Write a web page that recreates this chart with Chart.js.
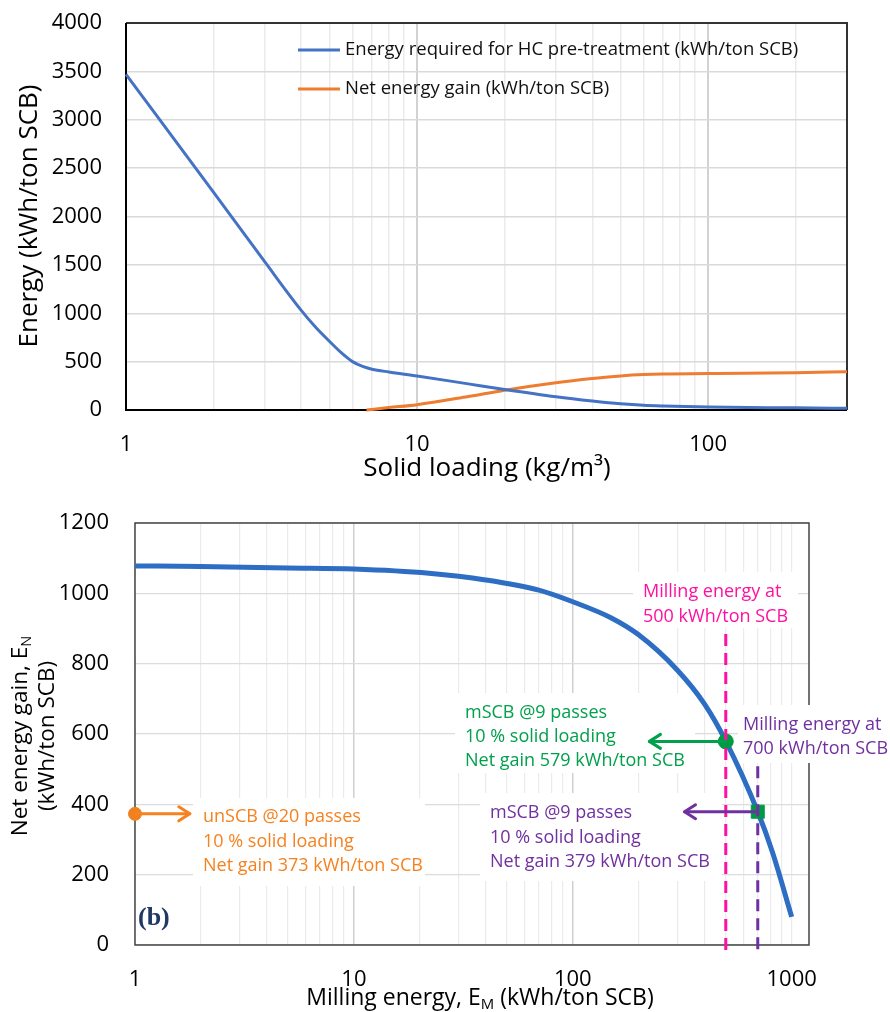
<!DOCTYPE html>
<html><head><meta charset="utf-8">
<script src="https://cdn.jsdelivr.net/npm/chart.js@4.4.1/dist/chart.umd.min.js"></script>
<style>
html,body{margin:0;padding:0;background:#fff;width:890px;height:1012px;overflow:hidden}
#w1{position:absolute;left:0;top:0;width:890px;height:490px}
#w2{position:absolute;left:0;top:490px;width:890px;height:522px}
canvas{display:block}
</style></head><body>
<div id="w1"><canvas id="c1" width="890" height="490"></canvas></div>
<div id="w2"><canvas id="c2" width="890" height="522"></canvas></div>
<script>
// ---------- DATA (top chart) ----------
const hcX      = [1, 2, 3, 4, 4.5, 5, 5.5, 6, 6.5, 7, 8, 10, 15, 20, 30, 40, 50, 60, 70, 100, 200, 300];
const hcEnergy = [3470, 2250, 1530, 1030, 850, 710, 590, 500, 450, 422, 393, 352, 270, 212, 137, 93, 64, 48, 41, 31, 22, 17];
const netX     = [6.7, 8, 10, 15, 20, 30, 40, 50, 60, 70, 100, 200, 300];
const netGain  = [0, 25, 55, 140, 205, 282, 325, 352, 366, 372, 376, 386, 395];
const topXTicks  = [1,2,3,4,5,6,7,8,9,10,20,30,40,50,60,70,80,90,100,200,300];
const topXLabels = [1, 10, 100];
const topSeriesNames = ['Energy required for HC pre-treatment (kWh/ton SCB)', 'Net energy gain (kWh/ton SCB)'];

// ---------- DATA (bottom chart) ----------
const millX    = [1, 2, 5, 10, 22, 40, 70, 100, 150, 200, 300, 400, 500, 700, 820, 1000];
const millGain = [1078, 1076, 1072, 1069, 1057, 1038, 1009, 976, 930, 882, 782, 685, 580, 379, 261, 80];
const botXTicks  = [1,2,3,4,5,6,7,8,9,10,20,30,40,50,60,70,80,90,100,200,300,400,500,600,700,800,900,1000];
const botXLabels = [1, 10, 100, 1000];
const markerX = [1, 500, 700];
const markerY = [373, 579, 379];
const arrowToX = [1.78, 224, 324];
const millingLineX = [500, 700];
const millingLineTop = [890, 512];
const millingLineBottom = [-14, -12];
const unscbNote   = ['unSCB @20 passes', '10 % solid loading', 'Net gain 373 kWh/ton SCB'];
const mscb500Note = ['mSCB @9 passes', '10 % solid loading', 'Net gain 579 kWh/ton SCB'];
const mscb700Note = ['mSCB @9 passes', '10 % solid loading', 'Net gain 379 kWh/ton SCB'];
const mill500Note = ['Milling energy at', '500 kWh/ton SCB'];
const mill700Note = ['Milling energy at', '700 kWh/ton SCB'];

const FONT = "'Open Sans', 'DejaVu Sans', sans-serif";
Chart.defaults.font.family = FONT;
Chart.defaults.color = '#000';

function drawRich(ctx, parts, cx, cy, size, rot, color){
  ctx.save();
  ctx.translate(cx, cy);
  if (rot) ctx.rotate(rot);
  ctx.fillStyle = color || '#000';
  ctx.textBaseline = 'middle';
  ctx.textAlign = 'left';
  let w = 0;
  const widths = parts.map(p => {
    ctx.font = (p.sub ? size*0.65 : size) + 'px ' + FONT;
    const m = ctx.measureText(p.t).width; w += m; return m;
  });
  let x = -w/2;
  parts.forEach((p,i) => {
    ctx.font = (p.sub ? size*0.65 : size) + 'px ' + FONT;
    ctx.fillText(p.t, x, p.sub ? size*0.28 : 0);
    x += widths[i];
  });
  ctx.restore();
}
const noPadY = s => { s.paddingTop = 0; s.paddingBottom = 0; };
const noPadX = s => { s.paddingLeft = 0; s.paddingRight = 0; };

// ---------- TOP CHART ----------
const topDecor = {
  id: 'topDecor',
  beforeDatasetsDraw(chart){
    const {ctx, chartArea:a} = chart;
    ctx.save();
    ctx.lineWidth = 2;
    ctx.strokeStyle = '#333';
    ctx.beginPath(); ctx.moveTo(a.left, a.top); ctx.lineTo(a.right, a.top); ctx.lineTo(a.right, a.bottom); ctx.stroke();
    ctx.strokeStyle = '#000';
    ctx.beginPath(); ctx.moveTo(a.left, a.top); ctx.lineTo(a.left, a.bottom); ctx.lineTo(a.right, a.bottom); ctx.stroke();
    ctx.restore();
  },
  afterDraw(chart){
    const ctx = chart.ctx;
    ctx.save();
    chart.data.datasets.forEach((ds, i) => {
      const y = 50 + i*39;
      ctx.strokeStyle = ds.borderColor; ctx.lineWidth = 3;
      ctx.beginPath(); ctx.moveTo(298, y); ctx.lineTo(340, y); ctx.stroke();
      ctx.fillStyle = '#111'; ctx.font = '18.5px ' + FONT;
      ctx.textBaseline = 'middle'; ctx.textAlign = 'left';
      ctx.fillText(ds.label, 345, y);
    });
    ctx.restore();
    drawRich(ctx, [{t:'Energy (kWh/ton SCB)'}], 30, 216, 26, -Math.PI/2);
    drawRich(ctx, [{t:'Solid loading (kg/m³)'}], 487, 469, 26, 0);
  }
};

new Chart(document.getElementById('c1'), {
  type: 'line',
  data: { datasets: [
    { label: topSeriesNames[0], data: hcX.map((x,i)=>({x, y:hcEnergy[i]})), borderColor:'#4472C4', borderWidth:3, pointRadius:0, cubicInterpolationMode:'monotone', clip:false },
    { label: topSeriesNames[1], data: netX.map((x,i)=>({x, y:netGain[i]})), borderColor:'#ED7D31', borderWidth:3, pointRadius:0, cubicInterpolationMode:'monotone', clip:false }
  ]},
  options: {
    responsive:false, animation:false, devicePixelRatio:1,
    layout:{ padding:{ left:0, top:23, right:43, bottom:0 } },
    plugins:{ legend:{display:false}, tooltip:{enabled:false} },
    scales:{
      x:{ type:'logarithmic', min:1, max:300,
        afterBuildTicks: s => { s.ticks = topXTicks.map(v => ({value:v})); },
        afterFit: s => { s.height = 80; noPadX(s); },
        ticks:{ autoSkip:false, maxRotation:0, padding:22, font:{size:22}, callback: v => topXLabels.includes(v) ? String(v) : '' },
        grid:{ drawTicks:false, color: c => (c.tick && topXLabels.includes(c.tick.value)) ? '#d2d2d2' : '#ebebeb', lineWidth: c => (c.tick && topXLabels.includes(c.tick.value)) ? 2 : 1.5 },
        border:{ display:false }
      },
      y:{ min:0, max:4000,
        afterFit: s => { s.width = 126; noPadY(s); },
        ticks:{ stepSize:500, padding:24, font:{size:22}, callback: v => String(v) },
        grid:{ drawTicks:false, color:'#d9d9d9', lineWidth:1.5 },
        border:{ display:false }
      }
    }
  },
  plugins:[topDecor]
});

// ---------- BOTTOM CHART ----------
function arrow(ctx, x1, y, x2, color){
  const dir = Math.sign(x2 - x1);
  ctx.save();
  ctx.strokeStyle = color; ctx.lineWidth = 3; ctx.lineCap = 'round'; ctx.lineJoin = 'round';
  ctx.beginPath(); ctx.moveTo(x1, y); ctx.lineTo(x2, y); ctx.stroke();
  ctx.beginPath(); ctx.moveTo(x2 - dir*11, y - 7); ctx.lineTo(x2, y); ctx.lineTo(x2 - dir*11, y + 7); ctx.stroke();
  ctx.restore();
}
function noteBox(ctx, x, y, w, h){
  ctx.save(); ctx.fillStyle = '#fff'; ctx.fillRect(x, y, w, h); ctx.restore();
}
function noteText(ctx, lines, x, y0, dy, color){
  ctx.save();
  ctx.fillStyle = color; ctx.font = '18px ' + FONT; ctx.textBaseline = 'middle'; ctx.textAlign = 'left';
  lines.forEach((t,i) => ctx.fillText(t, x, y0 + i*dy));
  ctx.restore();
}

const botDecor = {
  id: 'botDecor',
  beforeDatasetsDraw(chart){
    const {ctx, chartArea:a} = chart;
    ctx.save();
    ctx.lineWidth = 1.5; ctx.strokeStyle = '#444';
    ctx.strokeRect(a.left, a.top, a.right - a.left, a.bottom - a.top);
    ctx.restore();
    noteBox(ctx, 193, 308, 232, 88);   // unSCB
    noteBox(ctx, 455, 203, 240, 80);   // mSCB 500
    noteBox(ctx, 480, 303, 242, 88);   // mSCB 700
    noteBox(ctx, 633, 82, 165, 56);    // milling 500
    noteBox(ctx, 738, 215, 152, 58);   // milling 700
  },
  afterDatasetsDraw(chart){
    const ctx = chart.ctx;
    const xs = chart.scales.x, ys = chart.scales.y;
    const colors = ['#F5821F', '#00A04C', '#7030A0'];
    markerX.forEach((mx, i) => {
      const x1 = xs.getPixelForValue(mx), x2 = xs.getPixelForValue(arrowToX[i]), y = ys.getPixelForValue(markerY[i]);
      arrow(ctx, x1, y, x2, colors[i]);
    });
    noteText(ctx, unscbNote, 203, 327, 24.5, '#F5821F');
    noteText(ctx, mscb500Note, 465, 223, 24, '#00A04C');
    noteText(ctx, mscb700Note, 490, 323, 24.5, '#7030A0');
    noteText(ctx, mill500Note, 643, 102, 25, '#FF10A0');
    noteText(ctx, mill700Note, 743, 235, 23.5, '#7030A0');
    ctx.save();
    ctx.fillStyle = '#1F3864'; ctx.font = 'bold 26px "Liberation Serif", serif';
    ctx.textBaseline = 'middle'; ctx.textAlign = 'left';
    ctx.fillText('(b)', 138, 428);
    ctx.restore();
  },
  afterDraw(chart){
    const ctx = chart.ctx;
    drawRich(ctx, [{t:'Net energy gain, E'}, {t:'N', sub:true}], 21, 246, 22.5, -Math.PI/2);
    drawRich(ctx, [{t:'(kWh/ton SCB)'}], 48, 246, 22.5, -Math.PI/2);
    drawRich(ctx, [{t:'Milling energy, E'}, {t:'M', sub:true}, {t:' (kWh/ton SCB)'}], 480, 508, 23, 0);
  }
};

new Chart(document.getElementById('c2'), {
  type: 'line',
  data: { datasets: [
    { label:'Net energy gain', data: millX.map((x,i)=>({x, y:millGain[i]})), borderColor:'#2E6DC4', borderWidth:5, pointRadius:0, cubicInterpolationMode:'monotone', order:3, clip:false },
    { label:'500 kWh/ton SCB', data: [{x:millingLineX[0], y:millingLineBottom[0]}, {x:millingLineX[0], y:millingLineTop[0]}], borderColor:'#FF10A0', borderWidth:3, borderDash:[12,7], pointRadius:0, order:0, clip:false },
    { label:'700 kWh/ton SCB', data: [{x:millingLineX[1], y:millingLineBottom[1]}, {x:millingLineX[1], y:millingLineTop[1]}], borderColor:'#7030A0', borderWidth:3, borderDash:[12,7], pointRadius:0, order:0, clip:false },
    { label:'unSCB', data: [{x:markerX[0], y:markerY[0]}], showLine:false, pointRadius:6.5, pointBackgroundColor:'#F08020', pointBorderColor:'#F08020', order:1, clip:false },
    { label:'mSCB 500', data: [{x:markerX[1], y:markerY[1]}], showLine:false, pointRadius:7.5, pointBackgroundColor:'#009A44', pointBorderColor:'#009A44', order:1, clip:false },
    { label:'mSCB 700', data: [{x:markerX[2], y:markerY[2]}], showLine:false, pointStyle:'rect', pointRadius:9.2, pointBackgroundColor:'#009A44', pointBorderColor:'#009A44', order:1, clip:false }
  ]},
  options: {
    responsive:false, animation:false, devicePixelRatio:1,
    layout:{ padding:{ left:0, top:33, right:81, bottom:0 } },
    plugins:{ legend:{display:false}, tooltip:{enabled:false} },
    scales:{
      x:{ type:'logarithmic', min:1, max:1200,
        afterBuildTicks: s => { s.ticks = botXTicks.map(v => ({value:v})); },
        afterFit: s => { s.height = 67; noPadX(s); },
        ticks:{ autoSkip:false, maxRotation:0, padding:22, font:{size:22}, callback: v => botXLabels.includes(v) ? String(v) : '' },
        grid:{ drawTicks:false, color: c => (c.tick && [10,100].includes(c.tick.value)) ? '#d0d0d0' : '#ebebeb', lineWidth: c => (c.tick && [10,100].includes(c.tick.value)) ? 1.5 : 1.2 },
        border:{ display:false }
      },
      y:{ min:0, max:1200,
        afterFit: s => { s.width = 135; noPadY(s); },
        ticks:{ stepSize:200, padding:26, font:{size:22}, callback: v => String(v) },
        grid:{ drawTicks:false, color:'#dcdcdc', lineWidth:1.3 },
        border:{ display:false }
      }
    }
  },
  plugins:[botDecor]
});
</script>
</body></html>
